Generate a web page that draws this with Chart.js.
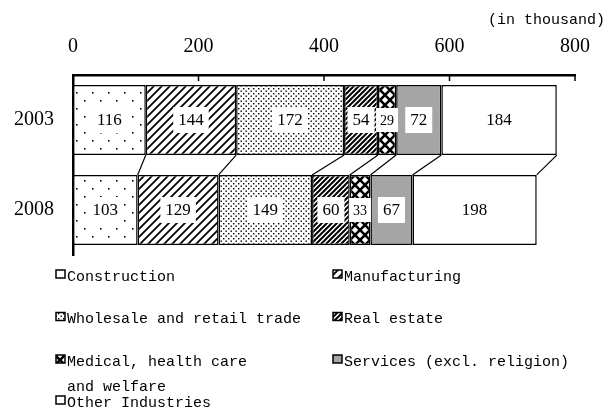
<!DOCTYPE html>
<html>
<head>
<meta charset="utf-8">
<script src="https://cdn.jsdelivr.net/npm/chart.js@4"></script>
<style>
  html, body { margin: 0; padding: 0; background: #fff; }
  #wrap { width: 614px; height: 414px; position: relative; }
</style>
</head>
<body>
<div id="wrap"><canvas id="myBarChart"></canvas></div>
<script>
// data (in thousand)
const years = ['2003', '2008'];
const industries = [
  'Construction',
  'Manufacturing',
  'Wholesale and retail trade',
  'Real estate',
  'Medical, health care\nand welfare',
  'Services (excl. religion)',
  'Other Industries'
];
const construction = [116, 103];
const manufacturing = [144, 129];
const wholesale = [172, 149];
const realEstate = [54, 60];
const medical = [29, 33];
const services = [72, 67];
const others = [184, 198];
const xTicks = [0, 200, 400, 600, 800];
const unitNote = '(in thousand)';

const ctx = document.getElementById('myBarChart').getContext('2d');

// small tiles for the black & white fills
function makePattern(size, draw) {
  const c = document.createElement('canvas');
  c.width = size; c.height = size;
  const p = c.getContext('2d');
  p.fillStyle = '#fff';
  p.fillRect(0, 0, size, size);
  p.fillStyle = '#000';
  p.strokeStyle = '#000';
  draw(p, size);
  return ctx.createPattern(c, 'repeat');
}
function diag(p, s, w) {
  p.lineWidth = w;
  p.beginPath();
  p.moveTo(0, s); p.lineTo(s, 0);
  p.moveTo(-2, 2); p.lineTo(2, -2);
  p.moveTo(s - 2, s + 2); p.lineTo(s + 2, s - 2);
  p.stroke();
}

const sparseDots = makePattern(16, (p) => {
  p.fillRect(4, 4, 1.6, 1.6);
  p.fillRect(12, 12, 1.6, 1.6);
});
const hatch = makePattern(8, (p, s) => diag(p, s, 1.8));
const fineDots = makePattern(5, (p) => {
  p.fillRect(0.5, 0.5, 1.4, 1.4);
  p.fillRect(3, 3, 1.4, 1.4);
});
const denseHatch = makePattern(5, (p, s) => diag(p, s, 2));
const crossHatch = makePattern(10, (p, s) => {
  p.lineWidth = 2.6;
  p.beginPath();
  p.moveTo(0, 0); p.lineTo(s, s);
  p.moveTo(0, s); p.lineTo(s, 0);
  p.stroke();
});

const seriesValues = [construction, manufacturing, wholesale, realEstate, medical, services, others];
const fills = [sparseDots, hatch, fineDots, denseHatch, crossHatch, '#a5a5a5', '#ffffff'];

// lines joining the segment ends of the two bars + white value boxes
const barExtras = {
  id: 'barExtras',
  afterDatasetsDraw(chart) {
    const c = chart.ctx;
    c.save();
    c.strokeStyle = '#000';
    c.lineWidth = 1.2;
    chart.data.datasets.forEach((ds, i) => {
      const meta = chart.getDatasetMeta(i);
      const a = meta.data[0], b = meta.data[1];
      c.beginPath();
      c.moveTo(a.x, a.y + a.height / 2);
      c.lineTo(b.x, b.y - b.height / 2);
      c.stroke();
    });
    c.textAlign = 'center';
    c.textBaseline = 'middle';
    chart.data.datasets.forEach((ds, i) => {
      const meta = chart.getDatasetMeta(i);
      meta.data.forEach((el, j) => {
        const v = ds.data[j];
        const small = v < 40;
        c.font = (small ? 14 : 17) + 'px "Liberation Serif"';
        const tw = c.measureText(String(v)).width;
        const w = tw + (small ? 8 : 10), h = small ? 24 : 26;
        const cx = (el.x + el.base) / 2;
        c.fillStyle = '#fff';
        c.fillRect(cx - w / 2, el.y - h / 2, w, h);
        c.fillStyle = '#000';
        c.fillText(String(v), cx, el.y + 1);
      });
    });
    c.restore();
  }
};

// tick marks hanging inside the top axis, unit note, two-column legend
const frameExtras = {
  id: 'frameExtras',
  afterDraw(chart) {
    const c = chart.ctx;
    const xs = chart.scales.x;
    const top = chart.chartArea.top;
    c.save();
    c.strokeStyle = '#000';
    c.lineWidth = 1.5;
    xTicks.forEach(t => {
      const px = xs.getPixelForValue(t);
      c.beginPath();
      c.moveTo(px, top);
      c.lineTo(px, top + 6);
      c.stroke();
    });

    c.fillStyle = '#000';
    c.font = '15px "Liberation Mono"';
    c.textAlign = 'right';
    c.textBaseline = 'middle';
    c.fillText(unitNote, 605, 20);

    const cols = [56, 333];
    const rows = [277, 319.5, 362, 403];
    c.textAlign = 'left';
    chart.data.datasets.forEach((ds, i) => {
      const x = cols[i % 2];
      const y = rows[Math.floor(i / 2)];
      c.fillStyle = ds.backgroundColor;
      c.fillRect(x, y - 7, 9, 8);
      c.strokeStyle = '#000';
      c.lineWidth = 1.5;
      c.strokeRect(x, y - 7, 9, 8);
      c.fillStyle = '#000';
      ds.label.split('\n').forEach((line, k) => {
        c.fillText(line, x + 11, y + k * 25);
      });
    });
    c.restore();
  }
};

Chart.defaults.font.family = '"Liberation Serif"';
Chart.defaults.color = '#000';

const myBarChart = new Chart(ctx, {
  type: 'bar',
  data: {
    labels: years,
    datasets: industries.map((name, i) => ({
      label: name,
      data: seriesValues[i],
      backgroundColor: fills[i],
      borderColor: '#000',
      borderWidth: 1.5,
      borderSkipped: false,
      barPercentage: 1,
      categoryPercentage: 0.78
    }))
  },
  options: {
    indexAxis: 'y',
    responsive: true,
    maintainAspectRatio: false,
    animation: false,
    layout: { padding: { left: 14, right: 39, top: 32, bottom: 159 } },
    plugins: {
      legend: { display: false },
      tooltip: { enabled: false }
    },
    scales: {
      x: {
        position: 'top',
        stacked: true,
        min: 0,
        max: 800,
        afterBuildTicks: (axis) => { axis.ticks = xTicks.map(v => ({ value: v })); },
        afterFit: (axis) => { axis.height = 43; },
        ticks: { font: { size: 20 }, padding: 16, maxRotation: 0 },
        grid: { display: false, drawTicks: false },
        border: { display: true, color: '#000', width: 2.5 }
      },
      y: {
        stacked: true,
        afterFit: (axis) => { axis.width = 59; },
        ticks: { font: { size: 20 }, padding: 19 },
        grid: { display: false, drawTicks: false },
        border: { display: true, color: '#000', width: 2.5 }
      }
    }
  },
  plugins: [barExtras, frameExtras]
});
</script>
</body>
</html>
